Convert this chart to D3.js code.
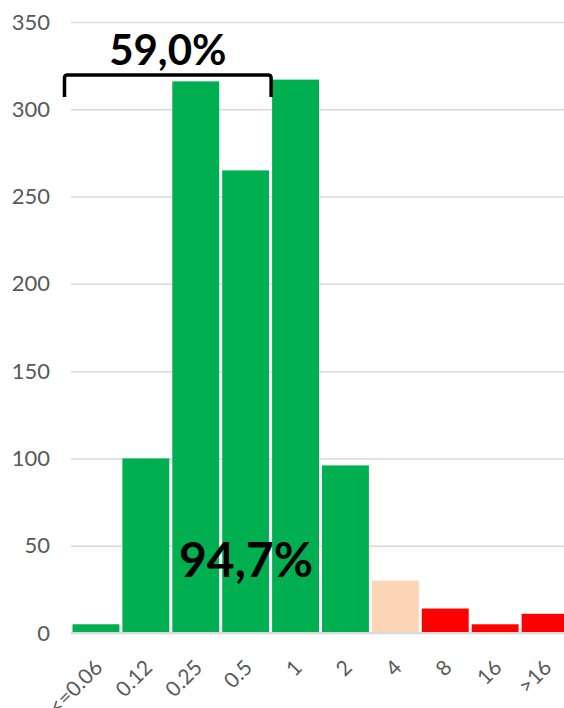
<!DOCTYPE html>
<html>
<head>
<meta charset="utf-8">
<script src="https://cdn.jsdelivr.net/npm/d3@7"></script>
<style>
  html, body { margin: 0; padding: 0; background: #fff; }
  svg { display: block; font-family: Lato, "Open Sans", sans-serif; }
</style>
</head>
<body>
<svg id="chart" width="564" height="708"></svg>
<script>
// MIC distribution: number of isolates per concentration class
const categories = ["<=0.06", "0.12", "0.25", "0.5", "1", "2", "4", "8", "16", ">16"];
const counts     = [5, 100, 316, 265, 317, 96, 30, 14, 5, 11];
// interpretive group of each class: S = susceptible, I = intermediate, R = resistant
const groups     = ["S", "S", "S", "S", "S", "S", "I", "R", "R", "R"];
const yTicks     = [0, 50, 100, 150, 200, 250, 300, 350];
const bracketLabel = "59,0%";
const bracketFrom  = "<=0.06";
const bracketTo    = "0.5";
const totalLabel   = "94,7%";

const colors = { S: "#00B050", I: "#FBD5B5", R: "#FF0000" };

const svg = d3.select("#chart");
const plotLeft = 71, plotRight = 570, plotTop = 22, plotBottom = 633;

const x = d3.scaleBand()
  .domain(categories)
  .range([plotLeft, plotRight])
  .paddingInner(0.06)
  .paddingOuter(0.03);

const y = d3.scaleLinear()
  .domain([0, 350])
  .range([plotBottom, plotTop]);

// horizontal gridlines with value labels
const yAxis = svg.append("g").attr("transform", `translate(${plotLeft},0)`)
  .call(d3.axisLeft(y).tickValues(yTicks).tickSize(-(plotRight - plotLeft)).tickPadding(21));
yAxis.select(".domain").remove();
yAxis.selectAll(".tick line").attr("stroke", "#D9D9D9").attr("stroke-width", 1.5);
yAxis.selectAll(".tick text")
  .attr("fill", "#595959")
  .style("font-size", "22px")
  .style("font-family", "Lato, 'Open Sans', sans-serif");

// bars
svg.append("g").selectAll("rect")
  .data(categories)
  .join("rect")
  .attr("x", d => x(d))
  .attr("width", x.bandwidth())
  .attr("y", (d, i) => y(counts[i]))
  .attr("height", (d, i) => y(0) - y(counts[i]))
  .attr("fill", (d, i) => colors[groups[i]]);

// category axis with slanted labels
const xAxis = svg.append("g").attr("transform", `translate(0,${plotBottom})`)
  .call(d3.axisBottom(x).tickSize(0).tickPadding(0));
xAxis.select(".domain").attr("stroke", "#D9D9D9").attr("stroke-width", 2)
  .attr("d", `M${plotLeft},0H${plotRight}`);
xAxis.selectAll(".tick text")
  .attr("fill", "#595959")
  .style("font-size", "21px")
  .style("font-family", "Lato, 'Open Sans', sans-serif")
  .attr("text-anchor", "end")
  .attr("dy", null)
  .attr("y", null)
  .attr("transform", "translate(-4,24) rotate(-45)")
  .attr("dominant-baseline", "hanging");

// bracket over the first four classes
const bx0 = x(bracketFrom) - 8;
const bx1 = x(bracketTo) + x.bandwidth() + 2;
const by0 = 75, by1 = 97, r = 3;
svg.append("path")
  .attr("d", `M${bx0},${by1}V${by0 + r}Q${bx0},${by0} ${bx0 + r},${by0}H${bx1 - r}Q${bx1},${by0} ${bx1},${by0 + r}V${by1}`)
  .attr("fill", "none")
  .attr("stroke", "#000")
  .attr("stroke-width", 3.5);

svg.append("text")
  .attr("x", (bx0 + bx1) / 2)
  .attr("y", 65)
  .attr("text-anchor", "middle")
  .style("font-size", "42px")
  .style("font-weight", "bold")
  .attr("fill", "#000")
  .text(bracketLabel);

svg.append("text")
  .attr("x", 246)
  .attr("y", 577)
  .attr("text-anchor", "middle")
  .style("font-size", "48px")
  .style("font-weight", "bold")
  .attr("fill", "#000")
  .text(totalLabel);
</script>
</body>
</html>
